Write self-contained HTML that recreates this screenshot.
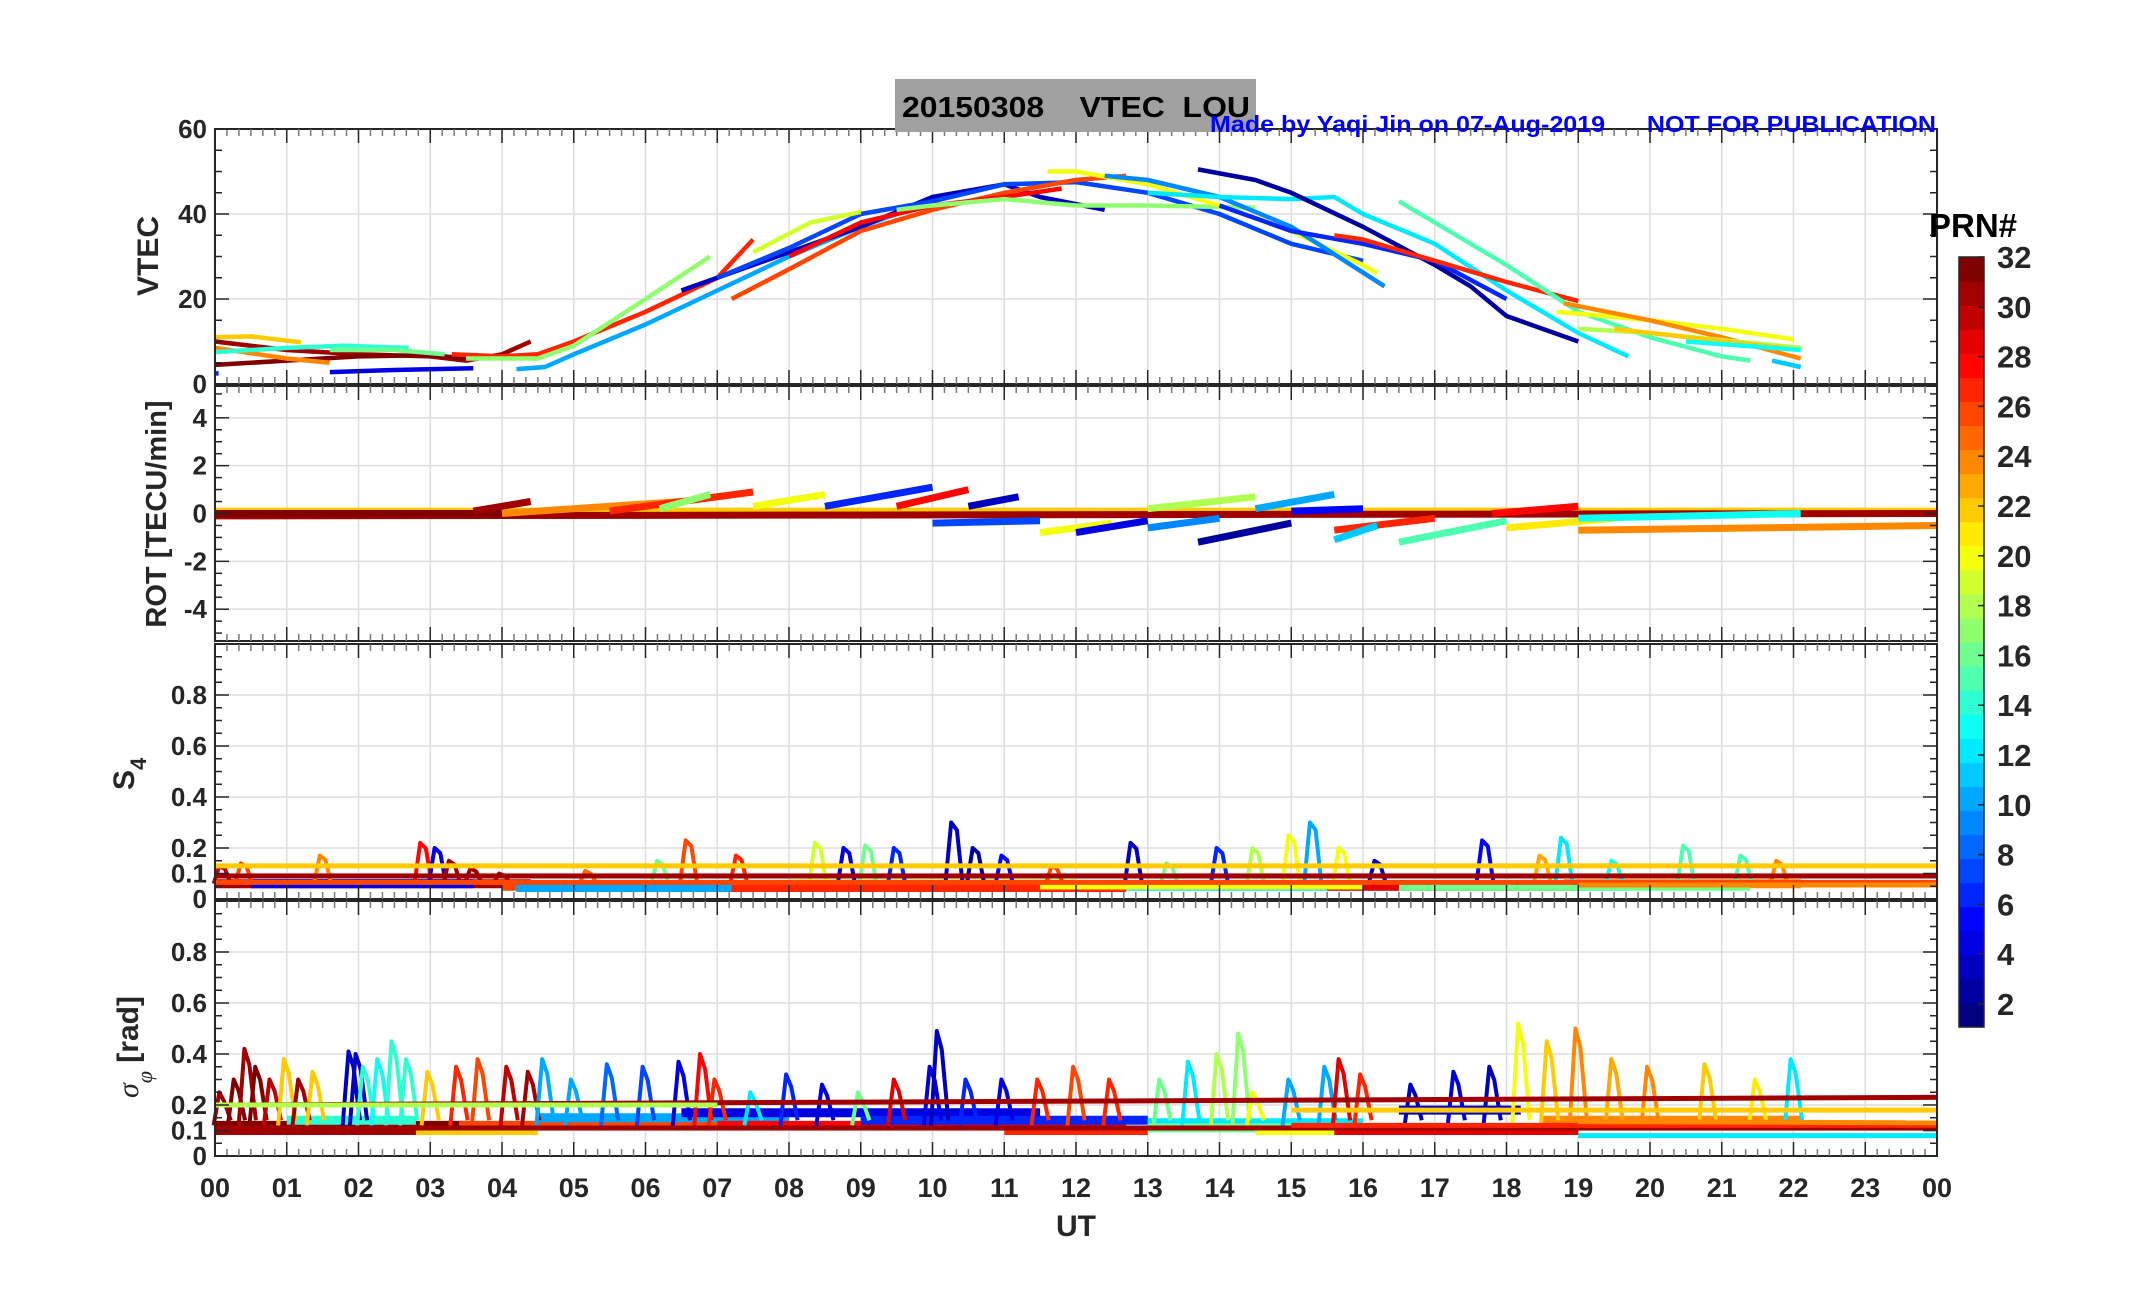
<!DOCTYPE html>
<html><head><meta charset="utf-8"><style>
html,body{margin:0;padding:0;background:#fff;}
svg text{font-family:"Liberation Sans",sans-serif;font-weight:bold;}
</style></head><body>
<svg id="fig" width="2153" height="1286" viewBox="0 0 2153 1286" xmlns="http://www.w3.org/2000/svg">
<rect width="2153" height="1286" fill="#fff"/>
<g id="grids"></g><g id="marks"></g><g id="axes"></g>
<rect x="895" y="79" width="361" height="53" fill="#a0a0a0"/>
<text x="902" y="117" font-size="29" fill="#000" textLength="348" lengthAdjust="spacingAndGlyphs" xml:space="preserve">20150308    VTEC  LOU</text>
<text x="1210" y="132" font-size="23" fill="#0000ff" textLength="726" lengthAdjust="spacingAndGlyphs" xml:space="preserve">Made by Yaqi Jin on 07-Aug-2019      NOT FOR PUBLICATION</text>
<text transform="translate(158,256) rotate(-90)" text-anchor="middle" font-size="30" fill="#262626">VTEC</text>
<text transform="translate(166,514) rotate(-90)" text-anchor="middle" font-size="29" fill="#262626">ROT [TECU/min]</text>
<text transform="translate(134,790) rotate(-90)" font-size="30" fill="#262626">S<tspan font-size="22" dy="12">4</tspan></text>
<text transform="translate(138,1098) rotate(-90)" font-size="30" fill="#262626"><tspan font-style="italic" font-family="Liberation Serif" font-weight="normal">σ</tspan><tspan font-style="italic" font-family="Liberation Serif" font-weight="normal" font-size="22" dy="14">φ</tspan><tspan dy="-14"> [rad]</tspan></text>
<text x="1076" y="1236" text-anchor="middle" font-size="30" fill="#262626">UT</text>
<g id="cbar"></g>
<text x="1929" y="237" font-size="33" fill="#000">PRN#</text>
</svg>
<script>
// ---------- data ----------
const hourLabels=["00","01","02","03","04","05","06","07","08","09","10","11","12","13","14","15","16","17","18","19","20","21","22","23","00"];
const vtecTicks=[0,20,40,60];
const rotTicks=[-4,-2,0,2,4];
const s4Ticks=[0,0.1,0.2,0.4,0.6,0.8];
const sigTicks=[0,0.1,0.2,0.4,0.6,0.8];
const cbarTicks=[2,4,6,8,10,12,14,16,18,20,22,24,26,28,30,32];
// VTEC arcs: PRN, then [hour, TECU] points
const vtecPrn=[22,31,32,24,14,16,4,27,10,17,3,7,19,26,28,17,20,9,12,2,6,27,15,20,24,18,22,13,11,6];
const vtecArcs=[
[[0,11],[0.5,11.2],[1.2,9.8]],
[[0,10],[1,8],[2,7],[3,6.5],[3.5,5.5],[4,7],[4.4,10]],
[[0,4.5],[1,5.5],[2,6.5],[3,6.8],[3.5,6]],
[[0,8.5],[1,6],[1.6,5]],
[[0,7.5],[1,8.5],[1.8,9],[2.7,8.5]],
[[1.6,8],[2.5,8],[3.2,7]],
[[1.6,2.8],[2.5,3.3],[3.6,3.7]],
[[3.3,7],[4,6.5],[4.5,7],[5,10],[6,17],[7,25],[7.5,34]],
[[4.2,3.5],[4.6,4],[5,7],[6,14],[7,22],[8,30],[9,37],[10,43]],
[[3.5,6],[4.5,6],[5,9],[6,20],[6.9,30]],
[[6.5,22],[8,31],[9,37],[10,44],[11,47],[11.5,44],[12.4,41]],
[[7,25],[8,32],[9,40],[10,43],[11,47],[12,47.5],[13,45],[14,40],[15,33],[16,29]],
[[7.5,31],[8.3,38],[9,40.5]],
[[7.2,20],[8,27],[9,36],[10,41],[11,45],[12,48],[12.7,49]],
[[8,30],[9,38],[10,42],[11,44],[11.8,46]],
[[9.5,41],[10,42],[11,43.5],[12,42],[13,42],[14.5,41.5]],
[[11.6,50],[12,50],[13,47],[14,42],[15,36],[16,28],[16.2,26]],
[[12.4,49],[13,48],[14,44],[15,37],[16.3,23]],
[[13,45],[14,44],[15,43.5],[15.6,44],[16,40],[17,33],[18,22],[19,12],[19.7,6.5]],
[[13.7,50.5],[14.5,48],[15,45],[16,37],[17,28],[17.5,23],[18,16],[19,10]],
[[14,42],[15,36],[16,33],[17,29],[18,20]],
[[15.6,35],[16,34],[17,29],[18,24],[19,19.5]],
[[16.5,43],[17,38],[18,28],[19,17],[20,11],[21,6.5],[21.4,5.5]],
[[18.7,17],[20,15],[21,13],[22,10.5]],
[[18.8,19],[20,15],[21,11],[22.1,6]],
[[19,13],[20,12],[22.1,8.5]],
[[19.5,13],[22.1,8]],
[[20.5,10],[22.1,8]],
[[21.7,5.5],[22.1,4]],
[[0,2.5],[0.05,2.5]]
];
// ROT arcs
const rotPrn=[22,31,32,24,27,17,20,6,28,3,7,20,4,9,18,2,10,5,27,11,15,28,21,24,13,31];
const rotStart=[[0,0.1],[0,-0.1],[0,0],[4,0],[5.5,0.1],[6.2,0.2],[7.5,0.3],[8.5,0.3],[9.5,0.3],[10.5,0.3],[10,-0.4],[11.5,-0.8],[12,-0.8],[13,-0.6],[13,0.2],[13.7,-1.2],[14.5,0.2],[15,0.1],[15.6,-0.7],[15.6,-1.1],[16.5,-1.2],[17.8,0],[18,-0.6],[19,-0.7],[19,-0.2],[3.6,0.1]];
const rotEnd=[[24,0.1],[24,0],[4.4,0],[6.5,0.5],[7.5,0.9],[6.9,0.8],[8.5,0.8],[10,1.1],[10.5,1.0],[11.2,0.7],[11.5,-0.3],[12.5,-0.4],[13,-0.3],[14,-0.2],[14.5,0.7],[15,-0.4],[15.6,0.8],[16,0.2],[17,-0.2],[16.2,-0.5],[18,-0.3],[19,0.3],[19.5,-0.2],[24,-0.5],[22.1,0],[4.4,0.5]];
// S4
const s4BandPrn=[31,26,4,10,18,6,12,27,29,20,24,16];
const s4BandSpan=[[0,4.4],[4,7.5],[0.5,3.6],[4.2,10],[8,12],[9,16],[12,19.7],[7.2,12.7],[15.5,19],[11.5,16],[18.8,22.1],[16.5,21.4]];
const s4BandLevel=[0.06,0.05,0.06,0.045,0.06,0.055,0.05,0.045,0.05,0.055,0.06,0.05];
const s4Lines=[[22,0.13,0,24],[31,0.09,0,24],[26,0.065,0,24],[24,0.055,19,24]];
const s4SpikeT=[0.1,0.4,1.5,2.9,3.1,3.3,4.0,6.2,6.6,7.3,8.4,8.8,9.1,9.5,10.3,10.6,11.0,12.8,14.0,14.5,15.0,15.3,15.7,16.2,17.7,18.5,18.8,19.5,20.5,21.3,21.8,3.6,5.2,11.7,13.3];
const s4SpikeV=[0.13,0.14,0.17,0.22,0.2,0.15,0.1,0.15,0.23,0.17,0.22,0.2,0.21,0.2,0.3,0.2,0.17,0.22,0.2,0.2,0.25,0.3,0.2,0.15,0.23,0.17,0.24,0.15,0.21,0.17,0.15,0.12,0.11,0.13,0.14];
const s4SpikeP=[30,26,24,28,4,31,30,16,26,27,19,4,16,6,3,2,5,3,6,18,20,10,20,3,5,23,12,13,15,15,24,31,25,26,16];
// Sigma-phi
const sigBandPrn=[31,32,14,22,26,10,4,28,6,27,12,16,20,24,3,29,18];
const sigBandSpan=[[0,4.4],[0,3.5],[1,2.8],[2.8,4.5],[3.4,7.5],[4.5,8],[6.5,11.5],[7,12.7],[9,13],[11,13],[13,16],[13,15],[14.5,19],[18.5,22.1],[16.5,18.2],[15.6,19],[19,22]];
const sigBandLevel=[0.1,0.12,0.14,0.1,0.12,0.15,0.17,0.12,0.14,0.1,0.13,0.11,0.1,0.14,0.18,0.1,0.12];
const sigLines=[[31,0.2,0,0.23,24],[18,0.2,0,0.2,7],[22,0.18,15,0.18,24],[31,0.11,0,0.11,24],[27,0.12,15,0.12,24],[12,0.08,19,0.08,24],[24,0.135,19,0.13,24]];
const sigSpikeT=[0.1,0.3,0.45,0.6,0.8,1.0,1.2,1.4,1.9,2.0,2.1,2.3,2.5,2.7,3.0,3.4,3.7,4.1,4.4,4.6,5.0,5.5,6.0,6.5,6.8,7.0,7.5,8.0,8.5,9.0,9.5,10.0,10.1,10.5,11.0,11.5,12.0,12.5,13.2,13.6,14.0,14.3,14.5,15.0,15.5,15.7,16.0,16.7,17.3,17.8,18.2,18.6,19.0,19.5,20.0,20.8,21.5,22.0];
const sigSpikeV=[0.25,0.3,0.42,0.35,0.3,0.38,0.3,0.33,0.41,0.4,0.35,0.38,0.45,0.38,0.33,0.35,0.38,0.35,0.33,0.38,0.3,0.36,0.35,0.37,0.4,0.3,0.25,0.32,0.28,0.25,0.3,0.35,0.49,0.3,0.3,0.3,0.35,0.3,0.3,0.37,0.4,0.48,0.25,0.3,0.35,0.38,0.32,0.28,0.33,0.35,0.52,0.45,0.5,0.38,0.35,0.36,0.3,0.38];
const sigSpikeP=[31,32,31,32,30,22,31,22,3,3,14,13,14,14,22,27,26,30,31,10,10,8,7,4,28,27,12,6,4,16,29,4,3,6,4,27,26,27,16,12,18,17,20,10,10,29,27,3,4,3,20,22,24,23,24,22,21,12];

// ---------- layout ----------
const X0=215,X1=1937;
const panels=[{top:129,min:0,max:60},{top:386,min:-5.33,max:5.33},{top:644,min:0,max:1},{top:901,min:0,max:1}];
const PH=255;
const NS="http://www.w3.org/2000/svg";
function xs(h){return X0+(X1-X0)*h/24;}
function ys(p,v){const P=panels[p];return P.top+PH-(v-P.min)/(P.max-P.min)*PH;}
function jet(k){const x=(k-1)/31;const c=t=>Math.round(255*Math.max(0,Math.min(1,1.5-Math.abs(4*x-t))));return `rgb(${c(3)},${c(2)},${c(1)})`;}
function mk(tag,attrs,parent){const e=document.createElementNS(NS,tag);for(const k in attrs)e.setAttribute(k,attrs[k]);parent.appendChild(e);return e;}
const G=document.getElementById('grids'),M=document.getElementById('marks'),A=document.getElementById('axes');
const tickSets=[vtecTicks,rotTicks,s4Ticks,sigTicks];
const minorStep=[5,0.5,0.05,0.05];

panels.forEach((P,pi)=>{
  const B=P.top+PH;
  for(let h=1;h<24;h++){const l=mk('line',{x1:xs(h),x2:xs(h),y1:P.top,y2:B,stroke:'#dedede','stroke-width':1.5},G);
    
    }
  tickSets[pi].forEach(v=>{if(v<=P.min||v>=P.max)return;const l=mk('line',{x1:X0,x2:X1,y1:ys(pi,v),y2:ys(pi,v),stroke:'#dedede','stroke-width':1.5},G);
    
    });
  const fr=mk('rect',{x:X0,y:P.top,width:X1-X0,height:PH,fill:'none',stroke:'#262626','stroke-width':2},A);
  
  
  for(let m=0;m<=144;m++){const x=xs(m/6);const len=(m%6===0)?14:7;
    mk('line',{x1:x,x2:x,y1:P.top,y2:P.top+len,stroke:m%6?'#777':'#262626','stroke-width':1.5},A);
    mk('line',{x1:x,x2:x,y1:B,y2:B-len,stroke:m%6?'#777':'#262626','stroke-width':1.5},A);}
  const st=minorStep[pi];
  for(let v=Math.ceil(P.min/st)*st;v<=P.max+1e-9;v+=st){const y=ys(pi,v);
    const major=tickSets[pi].some(t=>Math.abs(t-v)<1e-6);const len=major?14:7;
    mk('line',{x1:X0,x2:X0+len,y1:y,y2:y,stroke:'#262626','stroke-width':1.5},A);
    mk('line',{x1:X1,x2:X1-len,y1:y,y2:y,stroke:'#262626','stroke-width':1.5},A);}
  tickSets[pi].forEach(v=>{const t=mk('text',{x:X0-8,y:ys(pi,v)+9,'text-anchor':'end','font-size':26,fill:'#262626'},A);
    t.textContent=String(v);
    
    });
});
hourLabels.forEach((s,i)=>{const t=mk('text',{x:xs(i),y:1197,'text-anchor':'middle','font-size':27,fill:'#262626'},A);
  t.textContent=s;
  
  });

function poly(pi,pts,prn,w,name){const d=pts.map((p,i)=>(i?'L':'M')+xs(p[0]).toFixed(1)+','+ys(pi,p[1]).toFixed(1)).join('');
  const e=mk('path',{d:d,fill:'none',stroke:jet(prn),'stroke-width':w,'stroke-linejoin':'round','stroke-linecap':'butt'},M);
  
  return e;}
vtecArcs.forEach((a,i)=>poly(0,a,vtecPrn[i],4.5,'vtec-arc-prn'+vtecPrn[i]));
rotStart.forEach((s,i)=>poly(1,[s,rotEnd[i]],rotPrn[i],7,'rot-arc-prn'+rotPrn[i]));
s4BandSpan.forEach((s,i)=>poly(2,[[s[0],s4BandLevel[i]],[s[1],s4BandLevel[i]]],s4BandPrn[i],9,'s4-band-prn'+s4BandPrn[i]));
s4SpikeT.forEach((t,i)=>poly(2,[[t-0.12,0.06],[t-0.04,s4SpikeV[i]],[t+0.04,s4SpikeV[i]*0.9],[t+0.12,0.06]],s4SpikeP[i],4,'s4-spike'));
s4Lines.forEach(l=>poly(2,[[l[2],l[1]],[l[3],l[1]]],l[0],5,'s4-reference-line'));
sigBandSpan.forEach((s,i)=>poly(3,[[s[0],sigBandLevel[i]],[s[1],sigBandLevel[i]]],sigBandPrn[i],9,'sigma-band-prn'+sigBandPrn[i]));
sigSpikeT.forEach((t,i)=>poly(3,[[t-0.12,0.12],[t-0.04,sigSpikeV[i]],[t+0.03,sigSpikeV[i]*0.85],[t+0.12,0.14]],sigSpikeP[i],4,'sigma-spike'));
sigLines.forEach(l=>poly(3,[[l[2],l[1]],[l[4],l[3]]],l[0],5,'sigma-reference-line'));

// colorbar
const CB=document.getElementById('cbar');const cx=1959,cw=25,ct=257,ch=770;
const bh=ch/32;
for(let k=1;k<=32;k++){const y0=ct+(32-k)*bh;const r=mk('rect',{x:cx,y:y0,width:cw,height:bh+0.6,fill:jet(k)},CB);
  
  }
mk('rect',{x:cx,y:ct,width:cw,height:ch,fill:'none',stroke:'#262626','stroke-width':1.5},CB);
cbarTicks.forEach(k=>{const y=ct+(32-k)*24.9;mk('line',{x1:cx+cw-6,x2:cx+cw,y1:y,y2:y,stroke:'#262626','stroke-width':1.5},CB);
  const t=mk('text',{x:1997,y:y+11,'font-size':31,fill:'#262626'},CB);
  t.textContent=String(k);
  
  });
</script>
</body></html>
